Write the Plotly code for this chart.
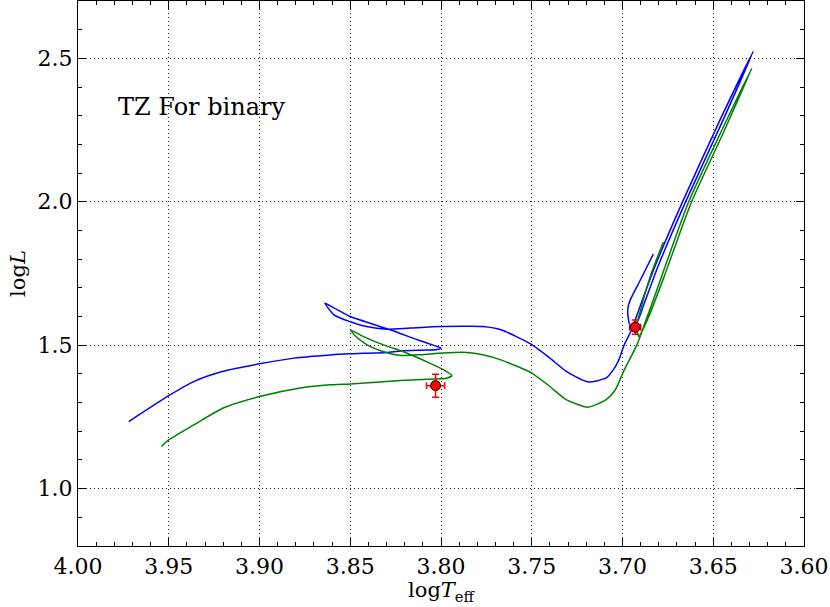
import plotly.graph_objects as go

# --- Track data ---
blue_logt = [3.972, 3.950, 3.936, 3.920, 3.900, 3.881, 3.861, 3.850, 3.830, 3.822,
             3.808, 3.802, 3.800, 3.802, 3.813, 3.828, 3.850, 3.859, 3.864, 3.859,
             3.850, 3.841, 3.830, 3.817, 3.800, 3.784, 3.777, 3.767, 3.750, 3.740,
             3.731, 3.719, 3.709, 3.705, 3.702, 3.699, 3.695, 3.690, 3.682, 3.667,
             3.646, 3.628,
             3.6443, 3.6653, 3.6803, 3.6883, 3.692, 3.6955, 3.697, 3.697, 3.6957,
             3.691, 3.683]
blue_logl = [1.234, 1.324, 1.374, 1.409, 1.435, 1.455, 1.466, 1.470, 1.475, 1.480,
             1.483, 1.485, 1.490, 1.495, 1.519, 1.554, 1.600, 1.630, 1.647, 1.606,
             1.582, 1.565, 1.556, 1.560, 1.565, 1.566, 1.565, 1.554, 1.502, 1.455,
             1.409, 1.372, 1.386, 1.415, 1.449, 1.502, 1.554, 1.641, 1.777, 1.999,
             2.289, 2.524,
             2.289, 1.999, 1.777, 1.641, 1.580, 1.565, 1.603, 1.630, 1.658,
             1.717, 1.818]

green_logt = [3.954, 3.950, 3.936, 3.920, 3.900, 3.8775, 3.861, 3.850, 3.822, 3.804,
              3.797, 3.794, 3.7985, 3.808, 3.819, 3.832, 3.843, 3.850, 3.847, 3.841,
              3.832, 3.822, 3.811, 3.799, 3.786, 3.777, 3.767, 3.750, 3.740, 3.731,
              3.719, 3.709, 3.704, 3.6994, 3.692, 3.6874, 3.682, 3.6636, 3.646, 3.6287,
              3.6445, 3.662, 3.677, 3.6855, 3.6895, 3.691, 3.6925, 3.690, 3.6847,
              3.6775]
green_logl = [1.147, 1.170, 1.223, 1.281, 1.321, 1.351, 1.362, 1.365, 1.377, 1.382,
              1.385, 1.394, 1.414, 1.443, 1.473, 1.502, 1.531, 1.554, 1.531, 1.502,
              1.478, 1.464, 1.467, 1.473, 1.475, 1.467, 1.449, 1.403, 1.356, 1.310,
              1.284, 1.310, 1.344, 1.409, 1.502, 1.582, 1.676, 1.999, 2.240, 2.466,
              2.240, 1.999, 1.740, 1.600, 1.545, 1.530, 1.560, 1.624, 1.740,
              1.860]

# --- Observed components of TZ For ---
star_logt = [3.693, 3.803]
star_logl = [1.563, 1.359]
star_logt_err = [0.003, 0.005]
star_logl_err = [0.025, 0.04]

FONT = "DejaVu Serif"

fig = go.Figure()

fig.add_trace(go.Scatter(
    x=blue_logt, y=blue_logl, mode="lines",
    line=dict(color="#0000ff", width=1.5, shape="spline", smoothing=0.6),
    showlegend=False,
))
fig.add_trace(go.Scatter(
    x=green_logt, y=green_logl, mode="lines",
    line=dict(color="#008000", width=1.5, shape="spline", smoothing=0.6),
    showlegend=False,
))
fig.add_trace(go.Scatter(
    x=star_logt, y=star_logl, mode="markers",
    marker=dict(color="#ff0000", size=10, line=dict(color="black", width=1)),
    error_x=dict(type="data", array=star_logt_err, color="#ff0000", thickness=1.5, width=3.5),
    error_y=dict(type="data", array=star_logl_err, color="#ff0000", thickness=1.5, width=3.5),
    showlegend=False,
))

fig.add_annotation(
    x=3.979, y=2.33, xref="x", yref="y",
    text="TZ For binary", showarrow=False,
    xanchor="left", yanchor="middle",
    font=dict(family=FONT, size=24, color="black"),
)

axis_common = dict(
    showline=True, linecolor="black", linewidth=1.2, mirror="ticks",
    ticks="inside", ticklen=8, tickwidth=1, tickcolor="black",
    showgrid=True, gridcolor="#222", gridwidth=0.8, griddash="1px,3px",
    zeroline=False, automargin=False,
    tickfont=dict(family=FONT, size=22, color="black"),
)

fig.update_xaxes(
    range=[4.0, 3.6], tick0=3.6, dtick=0.05, tickformat=".2f",
    minor=dict(dtick=0.01, ticks="inside", ticklen=4, tickcolor="black", showgrid=False),
    title=dict(text="log<i>T</i><sub>eff</sub>", font=dict(family=FONT, size=21, color="black"),
               standoff=2),
    **axis_common,
)
fig.update_yaxes(
    range=[0.8, 2.7], tick0=0, dtick=0.5, tickformat=".1f",
    minor=dict(dtick=0.1, ticks="inside", ticklen=4, tickcolor="black", showgrid=False),
    title=dict(text="log<i>L</i>", font=dict(family=FONT, size=21, color="black"),
               standoff=6),
    **axis_common,
)

fig.update_layout(
    width=830, height=607,
    margin=dict(l=78, r=26, t=1, b=61),
    plot_bgcolor="white", paper_bgcolor="white",
)

# drop the default page margin so the figure sits at the window corner
fig.write_html("out.html", config={"displayModeBar": False},
               post_script="document.body.style.margin='0';")
